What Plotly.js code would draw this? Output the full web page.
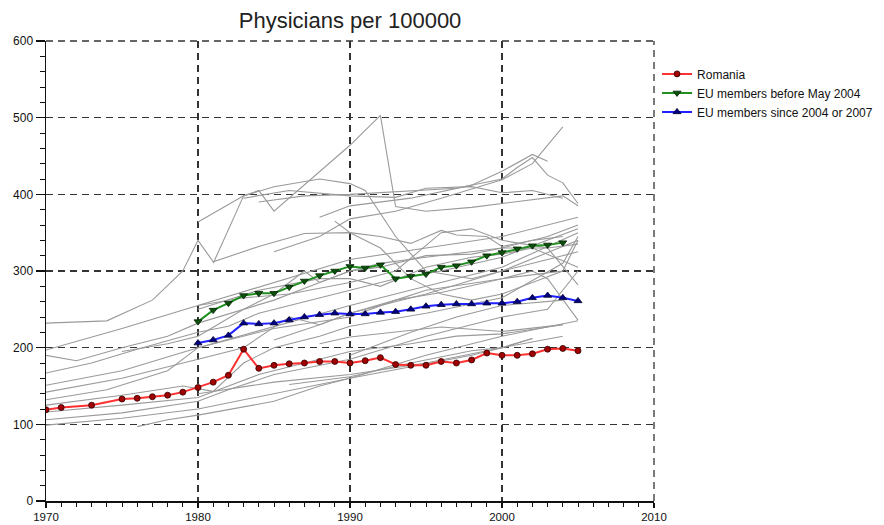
<!DOCTYPE html>
<html>
<head>
<meta charset="utf-8">
<script src="https://cdn.plot.ly/plotly-3.0.1.min.js"></script>
<style>html,body{margin:0;padding:0;background:#fff;}#chart{width:884px;height:525px;}</style>
</head>
<body>
<div id="chart"></div>
<script>
// Highlighted series
const romaniaYears = [1970,1971,1973,1975,1976,1977,1978,1979,1980,1981,1982,1983,1984,1985,1986,1987,1988,1989,1990,1991,1992,1993,1994,1995,1996,1997,1998,1999,2000,2001,2002,2003,2004,2005];
const romaniaValues = [119,122,125,133,134,136,138,142,148,155,164,198,173,177,179,180,182,182,180,183,187,178,177,177,182,180,184,193,190,190,192,198,199,196];

const euOldYears = [1980,1981,1982,1983,1984,1985,1986,1987,1988,1989,1990,1991,1992,1993,1994,1995,1996,1997,1998,1999,2000,2001,2002,2003,2004];
const euOldValues = [234,249,258,268,271,271,279,287,294,300,306,304,308,290,293,296,305,307,312,320,324,329,333,334,337];

const euNewYears = [1980,1981,1982,1983,1984,1985,1986,1987,1988,1989,1990,1991,1992,1993,1994,1995,1996,1997,1998,1999,2000,2001,2002,2003,2004,2005];
const euNewValues = [206,210,216,232,231,232,236,240,243,245,244,244,246,247,250,254,256,257,257,258,258,260,265,268,265,261];

// Individual member countries (grey lines)
const countryYears = [
  [1970,1974,1977,1979,1980,1981,1984,1987,1990,1992,1994,1996,1997,1999,2000,2002,2004],
  [1980,1983,1984,1985,1990,1992,1993,1995,1998,2000,2002,2004,2005],
  [1981,1983,1985,1988,1990,1991,1993,1995,1998,2000,2003,2005],
  [1985,1988,1990,1993,1996,2000,2002,2004],
  [1988,1990,1994,1998,2000,2002,2003],
  [1984,1987,1990,1994,1997,2000,2001,2002,2003,2004,2005],
  [1983,1986,1990,1993,1995,1998,2000,2002,2004],
  [1970,1975,1980,1985,1990,1995,2000,2005],
  [1970,1972,1975,1978,1980,1983,1985,1988,1990,1992,1995,2000,2003,2005],
  [1970,1973,1976,1980,1982,1984,1987,1990,1993,1996,2000,2005],
  [1970,1975,1980,1985,1990,1995,2000,2005],
  [1970,1975,1980,1983,1986,1988,1990,1995,2000,2005],
  [1970,1974,1978,1980,1982,1985,1990,1993,1995,2000,2004],
  [1970,1975,1979,1981,1983,1985,1988,1990,1995,2000,2004,2005],
  [1970,1975,1980,1982,1985,1990,1995,2000,2003,2005],
  [1970,1975,1980,1985,1990,1995,2000,2005],
  [1976,1978,1980,1985,1988,1990,1994,1998,2000,2002],
  [1980,1985,1990,1995,2000,2004],
  [1970,1975,1980,1984,1988,1990,1994,1997,2000,2004],
  [1989,1990,1992,1994,1996,1998,2000,2002,2004,2005],
  [1975,1978,1980,1983,1985,1987,1988,1990,1992,1995,1998,2000,2003,2005],
  [1980,1984,1988,1990,1992,1995,1998,2000,2002,2005],
  [1980,1983,1986,1990,1993,1996,1998,2000,2003,2005],
  [1985,1988,1990,1993,1996,2000,2002,2003,2005],
  [1988,1990,1996,2000,2004],
  [1986,1990,1994,1998,2000,2002],
  [1990,1994,1997,2000,2004]
];
const countryValues = [
  [232,235,262,300,340,312,332,349,350,345,336,353,347,345,332,340,345],
  [364,398,405,378,464,503,384,378,383,388,393,398,385],
  [310,398,410,420,414,405,345,300,290,300,315,325],
  [325,345,368,378,395,419,440,488],
  [370,385,395,412,430,452,443],
  [390,398,400,405,408,420,435,448,425,415,388],
  [395,405,398,396,408,410,402,405,395],
  [197,225,255,285,315,330,345,370],
  [190,183,200,215,232,250,262,285,300,310,318,330,345,360],
  [167,180,198,220,228,245,260,275,290,300,318,355],
  [151,170,200,228,255,280,305,350],
  [142,160,185,200,240,230,245,270,300,340],
  [132,145,170,200,210,225,240,262,275,290,300],
  [125,138,150,143,180,200,215,228,245,265,310,345],
  [106,115,130,145,165,185,215,240,250,300],
  [99,108,120,140,160,190,215,235],
  [97,106,112,130,150,160,175,190,200,212],
  [140,155,165,180,200,215],
  [116,125,135,165,185,195,205,215,218,230],
  [365,350,330,290,270,262,270,285,300,340],
  [195,205,215,250,270,300,285,300,305,320,322,330,330,335],
  [250,275,290,290,280,305,318,322,330,305],
  [255,265,270,285,300,350,355,340,330,282],
  [210,230,245,262,272,290,300,290,236],
  [205,214,227,221,230],
  [152,162,180,196,200,212],
  [190,220,240,255,262]
];

const traces = [];
for (let i = 0; i < countryYears.length; i++) {
  traces.push({
    x: countryYears[i], y: countryValues[i], type: 'scatter', mode: 'lines',
    line: {color: '#9a9a9a', width: 1.1}, showlegend: false, hoverinfo: 'skip'
  });
}
traces.push({
  x: romaniaYears, y: romaniaValues, name: 'Romania', type: 'scatter', mode: 'lines+markers',
  line: {color: '#ff3030', width: 2}, marker: {symbol: 'circle', size: 6, color: '#a00000', line: {color: '#300000', width: 0.8}}
});
traces.push({
  x: euOldYears, y: euOldValues, name: 'EU members before May 2004', type: 'scatter', mode: 'lines+markers',
  line: {color: '#209020', width: 2}, marker: {symbol: 'triangle-down', size: 7, color: '#0a500a', line: {color: '#042004', width: 0.8}}
});
traces.push({
  x: euNewYears, y: euNewValues, name: 'EU members since 2004 or 2007', type: 'scatter', mode: 'lines+markers',
  line: {color: '#2020ff', width: 2}, marker: {symbol: 'triangle-up', size: 7, color: '#000080', line: {color: '#000030', width: 0.8}}
});

const gridDash = '7px,5px';
const layout = {
  width: 884, height: 525,
  margin: {l: 46, r: 230, t: 41, b: 24, autoexpand: false},
  paper_bgcolor: '#fff', plot_bgcolor: '#fff',
  font: {family: 'Liberation Sans, Arial, sans-serif', color: '#111', size: 12},
  title: {text: 'Physicians per 100000', x: 0.396, xanchor: 'center', y: 0.962, yanchor: 'middle',
          font: {size: 22, color: '#222', family: 'Liberation Sans, Arial, sans-serif'}},
  xaxis: {
    range: [1970, 2010], dtick: 10, tick0: 1970, ticks: 'outside', ticklen: 5, tickwidth: 1.3, tickcolor: '#111',
    showline: true, linecolor: '#111', linewidth: 1.5,
    showgrid: true, gridcolor: '#333', gridwidth: 1.3, griddash: gridDash,
    zeroline: false, fixedrange: true, automargin: false,
    minor: {dtick: 1, ticks: 'outside', ticklen: 4, tickwidth: 1, tickcolor: '#111', showgrid: false},
    tickfont: {size: 11.5}
  },
  yaxis: {
    range: [0, 600], dtick: 100, ticks: 'outside', ticklen: 9, tickwidth: 1.3, tickcolor: '#111',
    showline: true, linecolor: '#111', linewidth: 1.5,
    showgrid: true, gridcolor: '#333', gridwidth: 1.3, griddash: gridDash,
    zeroline: false, fixedrange: true, automargin: false,
    minor: {dtick: 20, ticks: 'outside', ticklen: 5, tickwidth: 1, tickcolor: '#111', showgrid: false},
    tickfont: {size: 12}
  },
  shapes: [
    {type: 'line', xref: 'paper', yref: 'paper', x0: 0, x1: 1, y0: 1, y1: 1, layer: 'below',
     line: {color: '#333', width: 1.3, dash: gridDash}},
    {type: 'line', xref: 'paper', yref: 'paper', x0: 1, x1: 1, y0: 0, y1: 1, layer: 'below',
     line: {color: '#333', width: 1.3, dash: gridDash}}
  ],
  legend: {x: 1.005, y: 0.96, xanchor: 'left', yanchor: 'top', bgcolor: 'rgba(0,0,0,0)',
           font: {size: 12, color: '#111'}, itemwidth: 30, tracegroupgap: 0},
  showlegend: true
};

Plotly.newPlot('chart', traces, layout, {displayModeBar: false, staticPlot: true});
</script>
</body>
</html>
